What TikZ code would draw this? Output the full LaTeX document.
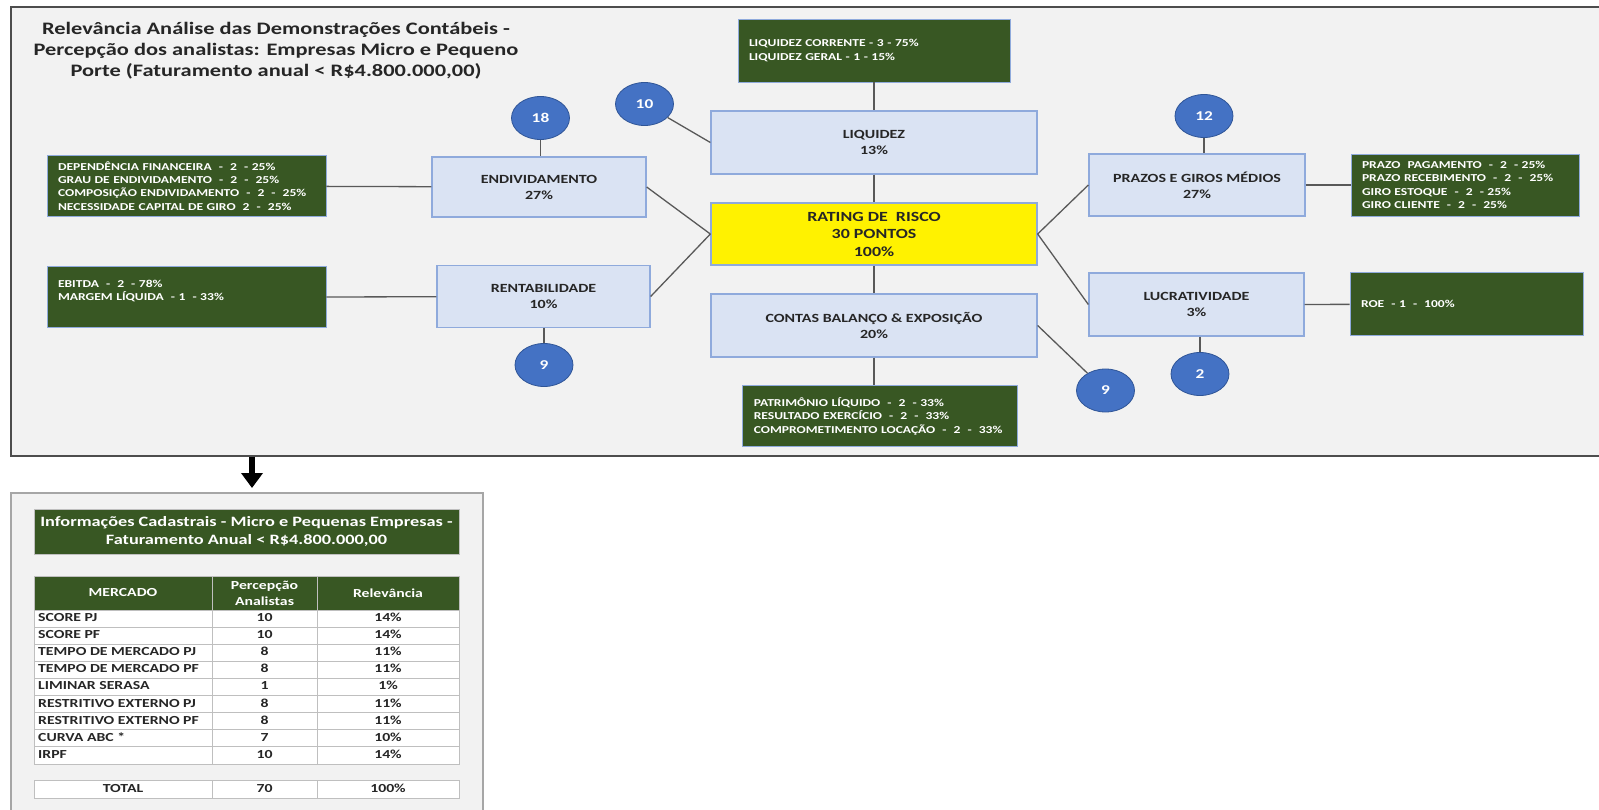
\documentclass[tikz,border=0pt]{standalone}
\usepackage{fontspec}
\setmainfont{Carlito}[FakeStretch=1.28]
\usetikzlibrary{arrows.meta,calc,shapes.geometric}
\definecolor{dkgreen}{HTML}{385723}
\definecolor{bluefill}{HTML}{DAE3F3}
\definecolor{blueedge}{HTML}{8FAADC}
\definecolor{circfill}{HTML}{4472C4}
\definecolor{circedge}{HTML}{2F5597}
\definecolor{bgc}{HTML}{F2F2F2}
\definecolor{linec}{HTML}{595959}
\definecolor{txtc}{HTML}{262626}
\definecolor{framec}{HTML}{4D4D4D}
\definecolor{tframec}{HTML}{A6A6A6}
\definecolor{cellc}{HTML}{BFBFBF}
\begin{document}
\begin{tikzpicture}[x=1pt,y=-1pt,
  bluebox/.style={draw=blueedge, fill=bluefill, line width=1.3pt, align=center, text=txtc,
    font=\fontsize{12.5}{16}\selectfont\bfseries, inner sep=0pt},
  ratingbox/.style={bluebox, fill=yellow, font=\fontsize{14}{17.5}\selectfont\bfseries},
  greenbox/.style={draw=blueedge, fill=dkgreen, line width=0.8pt, text=white, align=left,
    font=\fontsize{10.6}{13.3}\selectfont\bfseries, inner xsep=11pt, inner ysep=0pt},
  circ/.style={ellipse, draw=circedge, line width=0.8pt, fill=circfill, minimum width=58pt,
    minimum height=43pt, inner sep=0pt, text=white, font=\fontsize{13.5}{15}\selectfont\bfseries},
  conn/.style={draw=linec, line width=1.3pt},
  mainframe/.style={draw=framec, line width=1.6pt, fill=bgc, inner sep=0pt},
  tblframe/.style={draw=tframec, line width=1.5pt, fill=bgc, inner sep=0pt},
  bigarrow/.style={draw=black, line width=6pt, -{Triangle[width=21pt,length=15pt]}},
  cell/.style={draw=cellc, line width=0.8pt, fill=white, inner sep=0pt, text=txtc,
    font=\fontsize{12.3}{14}\selectfont\bfseries, text height=8pt, text depth=2pt},
  hdrcell/.style={cell, fill=dkgreen, text=white, align=center, text height=, text depth=,
    font=\fontsize{12.3}{16}\selectfont\bfseries},
  celltext/.style={inner sep=0pt, text=txtc, font=\fontsize{12.3}{14}\selectfont\bfseries,
    text height=8pt, text depth=2pt},
  banner/.style={draw=cellc, line width=0.8pt, fill=dkgreen, text=white, align=center,
    font=\fontsize{14.3}{18}\selectfont\bfseries, inner sep=0pt}
]
\useasboundingbox (0,0) rectangle (1599,810);

% frames
\node[mainframe, anchor=north west, minimum width=1600pt, minimum height=449pt] (frame) at (10,6) {};
\node[tblframe, anchor=north west, minimum width=472pt, minimum height=340pt] (tframe) at (10,492) {};

% title
\node[align=center, text=txtc, font=\fontsize{17.5}{21}\selectfont\bfseries] (title) at (276,51)
  {Relevância Análise das Demonstrações Contábeis -\\Percepção dos analistas: Empresas Micro e Pequeno\\Porte (Faturamento anual < R\$4.800.000,00)};

% blue boxes
\node[bluebox, minimum width=214pt, minimum height=60pt] (endiv) at (539,187) {ENDIVIDAMENTO\\27\%};
\node[bluebox, minimum width=213pt, minimum height=62pt] (rent) at (543.5,296.5) {RENTABILIDADE\\10\%};
\node[bluebox, minimum width=326pt, minimum height=63pt] (liq) at (874,142.5) {LIQUIDEZ\\13\%};
\node[ratingbox, minimum width=326pt, minimum height=62pt] (rating) at (874,234) {RATING DE\ \ RISCO\\30 PONTOS\\100\%};
\node[bluebox, minimum width=326pt, minimum height=63pt] (contas) at (874,325.5) {CONTAS BALANÇO \& EXPOSIÇÃO\\20\%};
\node[bluebox, minimum width=216pt, minimum height=62pt] (prazos) at (1197,185) {PRAZOS E GIROS MÉDIOS\\27\%};
\node[bluebox, minimum width=215pt, minimum height=63pt] (lucr) at (1196.5,304.5) {LUCRATIVIDADE\\3\%};

% green boxes
\node[greenbox, text width=257pt, minimum height=61pt] (g1) at (186.5,186)
  {\mbox{DEPENDÊNCIA FINANCEIRA ~- ~2 ~- 25\%}\\\mbox{GRAU DE ENDIVIDAMENTO ~- ~2 ~- ~25\%}\\\mbox{COMPOSIÇÃO ENDIVIDAMENTO ~- ~2 ~- ~25\%}\\\mbox{NECESSIDADE CAPITAL DE GIRO ~2 ~- ~25\%}};
\node[greenbox, text width=257pt, minimum height=61pt] (g2) at (186.5,297.3)
  {\mbox{EBITDA ~- ~2 ~- 78\%}\\\mbox{MARGEM LÍQUIDA ~- 1 ~- 33\%}\\\mbox{}};
\node[greenbox, text width=250pt, minimum height=63pt] (liqg) at (874,50.5)
  {\mbox{LIQUIDEZ CORRENTE - 3 - 75\%}\\\mbox{LIQUIDEZ GERAL - 1 - 15\%}};
\node[greenbox, text width=253pt, minimum height=61pt] (contasg) at (880.3,416.3)
  {\mbox{PATRIMÔNIO LÍQUIDO ~- ~2 ~- 33\%}\\\mbox{RESULTADO EXERCÍCIO ~- ~2 ~- ~33\%}\\\mbox{COMPROMETIMENTO LOCAÇÃO ~- ~2 ~- ~33\%}};
\node[greenbox, text width=206pt, minimum height=62pt] (prazog) at (1465,185)
  {\mbox{PRAZO ~PAGAMENTO ~- ~2 ~- 25\%}\\\mbox{PRAZO RECEBIMENTO ~- ~2 ~- ~25\%}\\\mbox{GIRO ESTOQUE ~- ~2 ~- 25\%}\\\mbox{GIRO CLIENTE ~- ~2 ~- ~25\%}};
\node[greenbox, text width=211pt, minimum height=63pt] (roeg) at (1466.5,304.3)
  {\mbox{ROE ~- 1 ~- ~100\%}};

% circles
\node[circ] (c18) at (540.5,118) {18};
\node[circ] (c10) at (644.5,104) {10};
\node[circ] (c9a) at (544,365) {9};
\node[circ] (c12) at (1204,116) {12};
\node[circ] (c2) at (1200,374) {2};
\node[circ] (c9b) at (1105.5,390.5) {9};

% connectors
\draw[conn] (g1) -- (endiv);
\draw[conn] (g2) -- (rent);
\draw[conn] (c18.south) -- (c18.south |- endiv.north);
\draw[conn] (c9a.north |- rent.south) -- (c9a.north);
\draw[conn] (c10) -- (liq.west);
\draw[conn] (liqg) -- (liq);
\draw[conn] (liq) -- (rating);
\draw[conn] (rating) -- (contas);
\draw[conn] (contas.south) -- (contas.south |- contasg.north);
\draw[conn] (endiv.east) -- (rating.west);
\draw[conn] (rent.east) -- (rating.west);
\draw[conn] (rating.east) -- (prazos.west);
\draw[conn] (rating.east) -- (lucr.west);
\draw[conn] (prazos) -- (prazog);
\draw[conn] (lucr) -- (roeg);
\draw[conn] (c12.south) -- (c12.south |- prazos.north);
\draw[conn] (c2.north |- lucr.south) -- (c2.north);
\draw[conn] (contas.east) -- (c9b);

% arrow to table
\coordinate (arrx) at (252,0);
\coordinate (arrE) at (252,488);
\draw[bigarrow] (frame.south -| arrx) -- (arrE);

% table
\node[banner, minimum width=425pt, minimum height=45pt] (ban) at (246.5,531.5)
  {Informações Cadastrais - Micro e Pequenas Empresas -\\Faturamento Anual < R\$4.800.000,00};
\node[hdrcell, minimum width=178pt, minimum height=34pt] (h1) at (123,593) {MERCADO};
\node[hdrcell, minimum width=105pt, minimum height=34pt] (h2) at (264.5,593) {Percepção\\Analistas};
\node[hdrcell, minimum width=142pt, minimum height=34pt] (h3) at (388,593) {Relevância};
\foreach \lab/\n/\p [count=\i] in {SCORE PJ/10/14\%, SCORE PF/10/14\%, TEMPO DE MERCADO PJ/8/11\%,
  TEMPO DE MERCADO PF/8/11\%, LIMINAR SERASA/1/1\%, RESTRITIVO EXTERNO PJ/8/11\%,
  RESTRITIVO EXTERNO PF/8/11\%, CURVA ABC */7/10\%, IRPF/10/14\%} {
  \pgfmathsetmacro\yc{610+(\i-0.5)*17.1}
  \node[cell, minimum width=178pt, minimum height=17.1pt] (ra\i) at (123,\yc) {};
  \node[celltext, anchor=west] (rt\i) at (38,\yc) {\lab};
  \node[cell, minimum width=105pt, minimum height=17.1pt] (rb\i) at (264.5,\yc) {\n};
  \node[cell, minimum width=142pt, minimum height=17.1pt] (rc\i) at (388,\yc) {\p};
}
\node[cell, minimum width=178pt, minimum height=18pt] (t1) at (123,789) {TOTAL};
\node[cell, minimum width=105pt, minimum height=18pt] (t2) at (264.5,789) {70};
\node[cell, minimum width=142pt, minimum height=18pt] (t3) at (388,789) {100\%};
\end{tikzpicture}
\end{document}
